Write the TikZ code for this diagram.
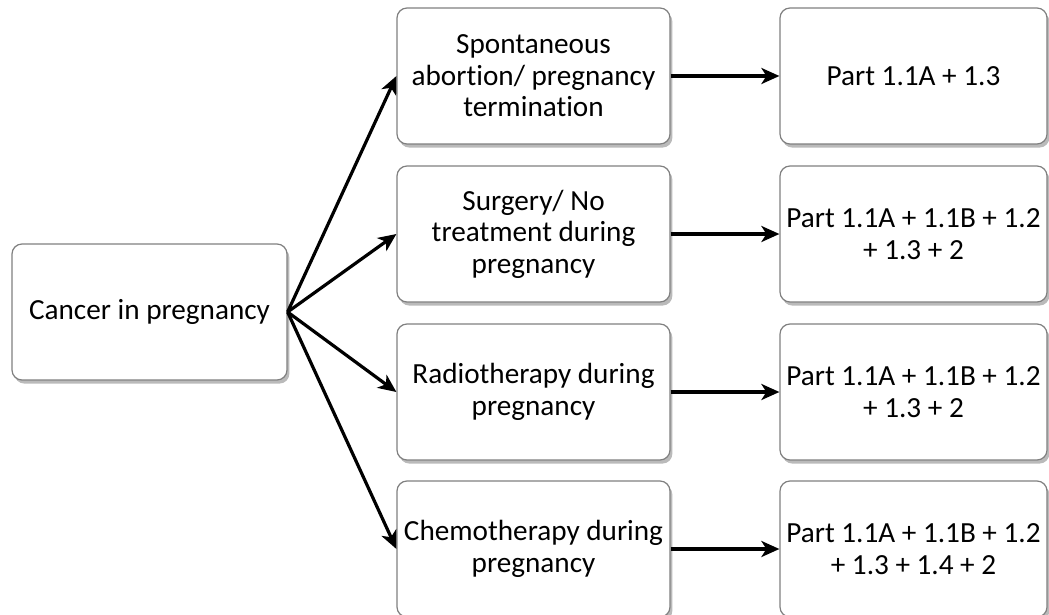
\documentclass[tikz,border=0pt]{standalone}
\usepackage{fontspec}
\setmainfont[Ligatures=NoCommon]{Carlito}
\usetikzlibrary{shadows,arrows.meta}
\tikzset{
  box/.style={draw=black!50, line width=0.6pt, fill=white, rounded corners=5pt,
    minimum height=68pt, align=center, inner sep=2pt,
    font=\fontsize{14.6pt}{15.7pt}\selectfont,
    drop shadow={shadow xshift=1.2pt, shadow yshift=-1.8pt, opacity=0.45, fill=black!60}},
  lbox/.style={box, minimum width=137.5pt},
  mbox/.style={box, minimum width=136.5pt},
  rbox/.style={box, minimum width=133.5pt},
  conn/.style={line width=1.6pt, -{Stealth[length=9pt, width=8pt, inset=2.5pt]}}
}
\begin{document}
\begin{tikzpicture}[x=0.5pt, y=-0.5pt]
\useasboundingbox (0,0) rectangle (1049,615);
\node[lbox] (L) at (149.5,312) {Cancer in pregnancy};
\node[mbox] (M1) at (533.5,76) {Spontaneous\\abortion/ pregnancy\\termination};
\node[mbox] (M2) at (533.5,234) {Surgery/ No\\treatment during\\pregnancy};
\node[mbox] (M3) at (533.5,392) {Radiotherapy during\\pregnancy};
\node[mbox] (M4) at (533.5,549) {Chemotherapy during\\pregnancy};
\node[rbox] (R1) at (913.5,76) {Part 1.1A + 1.3};
\node[rbox] (R2) at (913.5,234) {Part 1.1A + 1.1B + 1.2\\+ 1.3 + 2};
\node[rbox] (R3) at (913.5,392) {Part 1.1A + 1.1B + 1.2\\+ 1.3 + 2};
\node[rbox] (R4) at (913.5,549) {Part 1.1A + 1.1B + 1.2\\+ 1.3 + 1.4 + 2};
\foreach \i in {1,2,3,4} {
  \draw[conn] (L.east) -- (M\i.west);
  \draw[conn] (M\i.east) -- (R\i.west);
}
\end{tikzpicture}
\end{document}
